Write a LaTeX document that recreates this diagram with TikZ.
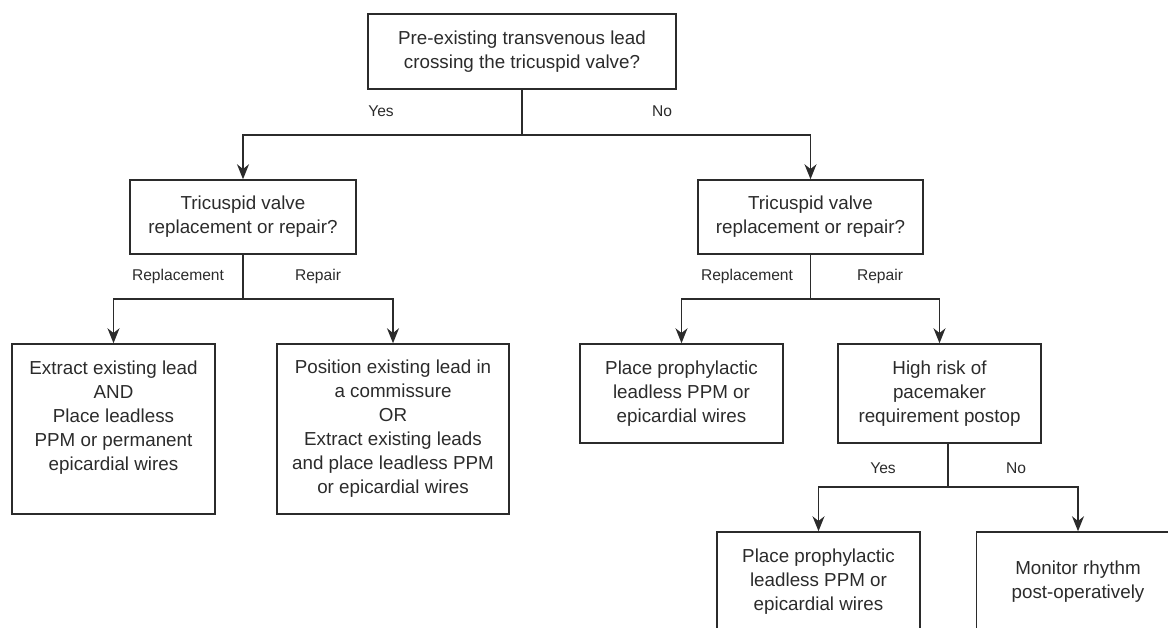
\documentclass[tikz,border=0pt]{standalone}
\usepackage{fontspec}
\setmainfont{Liberation Sans}
\usetikzlibrary{arrows.meta}
\definecolor{inkgray}{HTML}{2B2B2B}

\begin{document}
\begin{tikzpicture}[x=0.5pt,y=0.5pt,
  box/.style={draw=inkgray,line width=0.75pt,align=center,inner sep=0pt,text=inkgray,font=\fontsize{9.4}{12}\selectfont},
  lbl/.style={text=inkgray,inner sep=0pt,font=\fontsize{7.8}{9}\selectfont},
  ln/.style={draw=inkgray,line width=0.75pt},
  arr/.style={ln,-{Stealth[length=7.5pt,width=6pt,inset=2.4pt]}}]

\useasboundingbox (0,0) rectangle (1168,627) ;

\node[box,minimum width=154pt,minimum height=37.5pt] (q_lead) at (522,575.5) {Pre-existing transvenous lead\\crossing the tricuspid valve?} ;

\node[box,minimum width=113pt,minimum height=37pt] (q_tv_yes) at (243,410) {Tricuspid valve\\replacement or repair?} ;
\node[box,minimum width=112.5pt,minimum height=37pt] (q_tv_no) at (810.5,410) {Tricuspid valve\\replacement or repair?} ;

\node[box,minimum width=101.5pt,minimum height=85pt,text depth=13pt] (a_extract) at (113.5,198) {Extract existing lead\\AND\\Place leadless\\PPM or permanent\\epicardial wires} ;
\node[box,minimum width=116pt,minimum height=85pt] (a_position) at (393,198) {Position existing lead in\\a commissure\\OR\\Extract existing leads\\and place leadless PPM\\or epicardial wires} ;
\node[box,minimum width=101.5pt,minimum height=49.5pt] (a_proph) at (681.5,233.5) {Place prophylactic\\leadless PPM or\\epicardial wires} ;
\node[box,minimum width=101.5pt,minimum height=49.5pt] (q_risk) at (939.5,233.5) {High risk of\\pacemaker\\requirement postop} ;

\node[box,minimum width=101.5pt,minimum height=50pt] (a_proph_risk) at (818.5,45) {Place prophylactic\\leadless PPM or\\epicardial wires} ;
\node[box,minimum width=101.5pt,minimum height=50pt] (a_monitor) at (1078,45) {Monitor rhythm\\post-operatively} ;

\coordinate (j_lead) at (522,492) ;
\coordinate (j_tv_yes) at (243,328) ;
\coordinate (j_tv_no) at (810.5,328) ;
\coordinate (j_risk) at (948,140) ;

\draw[ln] (q_lead.south) -- (j_lead) ;
\draw[arr] (j_lead) -| (q_tv_yes.north) ;
\draw[arr] (j_lead) -| (q_tv_no.north) ;

\draw[ln] (q_tv_yes.south) -- (j_tv_yes) ;
\draw[arr] (j_tv_yes) -| (a_extract.north) ;
\draw[arr] (j_tv_yes) -| (a_position.north) ;

\draw[ln] (q_tv_no.south) -- (j_tv_no) ;
\draw[arr] (j_tv_no) -| (a_proph.north) ;
\draw[arr] (j_tv_no) -| (q_risk.north) ;

\draw[ln] (q_risk.south -| j_risk) -- (j_risk) ;
\draw[arr] (j_risk) -| (a_proph_risk.north) ;
\draw[arr] (j_risk) -| (a_monitor.north) ;

\node[lbl] (l_lead_yes) at (381,516) {Yes} ;
\node[lbl] (l_lead_no) at (662,516) {No} ;
\node[lbl] (l_yes_repl) at (178,351) {Replacement} ;
\node[lbl] (l_yes_rep) at (318,351) {Repair} ;
\node[lbl] (l_no_repl) at (747,351) {Replacement} ;
\node[lbl] (l_no_rep) at (880,351) {Repair} ;
\node[lbl] (l_risk_yes) at (883,159) {Yes} ;
\node[lbl] (l_risk_no) at (1016,159) {No} ;

\end{tikzpicture}
\end{document}
